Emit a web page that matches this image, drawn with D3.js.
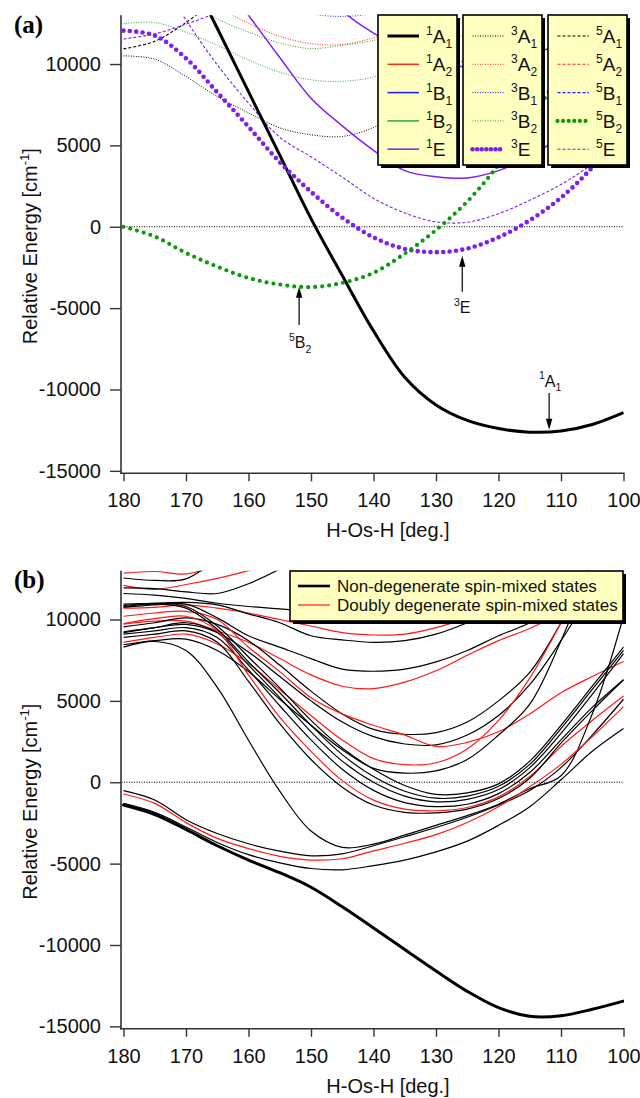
<!DOCTYPE html>
<html>
<head>
<meta charset="utf-8">
<script src="https://cdn.jsdelivr.net/npm/d3@7"></script>
<style>
  body { margin: 0; background: #fff; }
  svg { display: block; font-family: "Liberation Sans", Arial, Helvetica, sans-serif; }
</style>
</head>
<body>
<svg id="chart" width="640" height="1098"></svg>
<script>
const N = null;

// H-Os-H angle grid (deg.), every series below is read at these angles
const angles = [180, 175, 170, 165, 160, 155, 150, 145, 140, 135, 130, 125, 120, 115, 110, 105, 100];
const xTicks = [180, 170, 160, 150, 140, 130, 120, 110, 100];
const yTicks = [10000, 5000, 0, -5000, -10000, -15000];

// (a) spin-free states, relative energy in cm-1
const a1A1  = [N, N, 16000, 12200, 8300, 4400, 500, -3000, -6400, -9250, -10950, -11900, -12400, -12620, -12550, -12150, -11420];
const a1E   = [N, N, N, 15600, 13000, 10400, 7900, 6200, 4700, 3450, 3080, 3000, 3450, 4300, 5600, 7300, 9500];
const a1Eb  = [N, N, N, N, N, N, 16000, 13300, 11900, 10900, 10200, 9800, 9900, 10500, 11300, 12300, 13500];
const a3A1  = [10500, 10300, 9230, 8000, 7000, 6080, 5650, 5550, 6100, 7200, 8700, 10500, 12500, 14700, N, N, N];
const a3A2  = [N, N, N, 13500, 12500, 11700, 11250, 11200, 11600, 12200, 12900, 13700, N, N, N, N, N];
const a3B1  = [N, N, N, N, N, 13800, 13100, 12930, 13100, 13600, N, N, N, N, N, N, N];
const a3B2  = [12480, 12550, 11950, 11150, 10250, 9500, 9030, 8940, 9200, 9900, 10800, 12000, 13400, N, N, N, N];
const a3B2b = [N, N, 14000, 12770, 11970, 11290, 10950, 11150, 11450, 12100, 13000, 14000, N, N, N, N, N];
const a3E   = [12050, 11750, 10350, 8260, 6140, 3970, 2150, 560, -650, -1360, -1560, -1340, -650, 400, 1790, 3650, 6000];
const a5A1  = [10930, 11400, 12550, 14000, N, N, N, N, N, N, N, N, N, N, N, N, N];
const a5B2  = [0, -600, -1610, -2450, -3150, -3550, -3710, -3450, -2830, -1650, -200, 1550, 3800, 6500, 9500, 12800, 16000];
const a5E   = [N, 15800, 12700, 9950, 7600, 5500, 4300, 3050, 1750, 850, 300, 280, 800, 1630, 2600, 3850, 5400];
const a5Eb  = [11540, 11850, 12450, 13150, 14000, N, N, N, N, N, N, N, N, N, N, N, N];

// (b) spin-mixed states
const bGround = [-1400, -1980, -2900, -3900, -4780, -5560, -6450, -7650, -8950, -10280, -11600, -12850, -13850, -14380, -14350, -13950, -13450];
const bK1  = [-515, -1090, -2300, -3150, -3780, -4230, -4520, -4400, -3900, -3350, -2780, -2150, -1400, -500, 900, 2900, 5100];
const bR1  = [-720, -1300, -2480, -3450, -4080, -4550, -4780, -4700, -4220, -3750, -3220, -2470, -1500, -280, 1100, 2800, 4650];
const bK3  = [-1300, -1850, -2750, -3700, -4450, -4950, -5300, -5380, -5120, -4780, -4280, -3620, -2650, -1500, 150, 1900, 3300];
const bKS  = [8300, 8650, 8100, 5830, 2580, -550, -3000, -4000, -3800, -3250, -2650, -2050, -1350, -400, 400, 4200, 10200];
const bK16 = [10850, 11000, 10800, 9600, 7700, 5800, 3800, 2100, 800, -200, -750, -650, -100, 1300, 3500, 5900, 8300];
const bK19 = [10800, 10950, 10700, 9400, 7400, 5500, 3500, 1700, 350, -550, -980, -850, -250, 1100, 3300, 5700, 8100];
const bK20 = [9200, 9500, 9800, 9200, 7200, 5200, 3100, 1300, 0, -850, -1200, -1050, -450, 900, 3000, 5400, 7900];
const bK18 = [9100, 9300, 9500, 8900, 6900, 4700, 2600, 800, -500, -1250, -1500, -1350, -700, 600, 2600, 4600, 6300];
const bR17 = [9750, 10050, 10200, 9300, 6600, 4000, 1900, 100, -1100, -1650, -1750, -1550, -900, 350, 2200, 3800, 5300];
const bK21 = [8900, 9100, 9300, 8600, 6200, 3600, 1400, -300, -1400, -1850, -1880, -1650, -1000, 250, 2400, 4400, 6300];
const bK11 = [9550, 9800, 10100, 9700, 8700, 7200, 5600, 4200, 3250, 2950, 3050, 3700, 5000, 6750, 9800, 13500, N];
const bK12 = [9250, 9500, 9700, 9200, 8000, 6500, 5000, 3700, 2800, 2350, 2300, 2900, 4100, 6000, 8700, 11800, N];
const bR13 = [10200, 10400, 10500, 10000, 8300, 6800, 5200, 4200, 3500, 2900, 2200, 2450, 3100, 4200, 5500, 6500, 7420];
const bR14 = [8600, 8900, 9100, 8500, 7300, 5700, 4100, 2600, 1450, 1080, 1200, 2050, 3800, 6400, 9800, 13500, N];
const bK15 = [8450, 8700, 8800, 8100, 6800, 5100, 3500, 2000, 850, 560, 700, 1400, 2900, 4800, 8700, 13500, N];
const bK6  = [11600, 11500, 11300, 11000, 10800, 10650, 10500, 10350, 10300, 10600, 11200, 12000, 13000, N, N, N, N];
const bR7  = [10700, 10750, 10900, 10700, 10400, 10000, 9600, 9200, 9050, 9100, 9500, 10100, 11000, 12000, N, N, N];
const bK8  = [10950, 11000, 11050, 10900, 10350, 9800, 9000, 8750, 8600, 8700, 9100, 9800, 10700, 11800, N, N, N];
const bK9  = [10750, 10900, 10950, 10100, 9000, 8300, 7600, 6950, 6820, 6950, 7400, 8100, 9000, 9800, 11000, 12300, N];
const bR10 = [9720, 9900, 9900, 9300, 8600, 7600, 6600, 5900, 5750, 6150, 6850, 7800, 8700, 9450, 10400, 11500, 12800];
const bR1t = [12850, 12950, 12800, 13300, 14000, N, N, N, N, N, N, N, N, N, N, N, N];
const bK2t = [12550, 12400, 12500, 13800, N, N, N, N, N, N, N, N, N, N, N, N, N];
const bR3t = [12100, 11850, 12150, 12530, 13000, 13600, N, N, N, N, N, N, N, N, N, N, N];
const bK4t = [11950, 11900, 11700, 11600, 12200, 13100, N, N, N, N, N, N, N, N, N, N, N];

// legend (a)
const multiplicities = ["1", "3", "5"];
const symmetries = [["A", "1"], ["A", "2"], ["B", "1"], ["B", "2"], ["E", ""]];
const symColors = ["#000000", "#ff2a1a", "#1a1aff", "#33a833", "#7f1fef"];

// legend (b)
const bLegend = ["Non-degenerate spin-mixed states", "Doubly degenerate spin-mixed states"];

const svg = d3.select("#chart");
const x = d3.scaleLinear().domain([180, 100]).range([123.5, 623.5]);

function styleFor(mult, s) {
  let st = { color: symColors[s], width: 1.5, dash: null, cap: "butt", legendDash: null };
  if (mult === "3") { st.width = 1; st.dash = "1 1.5"; }
  if (mult === "5") { st.width = 1.1; st.dash = "3 2"; }
  if (mult === "1" && s === 0) st.width = 3;
  if (mult === "3" && s === 4) { st.width = 4.6; st.dash = "0 6.4"; st.cap = "round"; st.legendDash = "0 4.6"; }
  if (mult === "5" && s === 3) { st.color = "#0c9a0c"; st.width = 4.2; st.dash = "0 7"; st.cap = "round"; st.legendDash = "0 5.6"; }
  return st;
}

function panel(top, label) {
  const bottom = top + 458.1;
  const y = d3.scaleLinear().domain([-15150, 13000]).range([bottom, top]);
  const g = svg.append("g");
  const clipId = "clip" + label;
  svg.append("clipPath").attr("id", clipId)
    .append("rect").attr("x", 122).attr("y", top).attr("width", 502).attr("height", bottom - top);

  // axes
  g.append("line").attr("x1", 121).attr("x2", 121).attr("y1", top).attr("y2", bottom + 0.8)
    .attr("stroke", "#333").attr("stroke-width", 1.6);
  g.append("line").attr("x1", 120.2).attr("x2", 624.5).attr("y1", bottom).attr("y2", bottom)
    .attr("stroke", "#333").attr("stroke-width", 1.6);

  const ya = g.append("g").attr("transform", "translate(121,0)")
    .call(d3.axisLeft(y).tickValues(yTicks).tickSize(11).tickPadding(9).tickSizeOuter(0).tickFormat(d => String(d)));
  const xa = g.append("g").attr("transform", `translate(0,${bottom})`)
    .call(d3.axisBottom(x).tickValues(xTicks).tickSize(8).tickPadding(12).tickSizeOuter(0).tickFormat(d => String(d)));
  [ya, xa].forEach(ax => {
    ax.select(".domain").remove();
    ax.selectAll("line").attr("stroke", "#333").attr("stroke-width", 1.4);
    ax.selectAll("text").attr("font-size", 20).attr("fill", "#111")
      .attr("font-family", "'Liberation Sans', Arial, sans-serif");
  });

  // titles
  const yt = g.append("text")
    .attr("transform", `translate(37,${(top + bottom) / 2 + 2}) rotate(-90)`)
    .attr("text-anchor", "middle").attr("font-size", 20).attr("fill", "#111");
  yt.append("tspan").text("Relative Energy [cm");
  yt.append("tspan").attr("font-size", 13).attr("dy", -8).text("-1");
  yt.append("tspan").attr("dy", 8).text("]");

  g.append("text").attr("x", 388).attr("y", bottom + 64)
    .attr("text-anchor", "middle").attr("font-size", 20).attr("fill", "#111")
    .text("H-Os-H [deg.]");

  g.append("text").attr("x", 14).attr("y", top + 17.5)
    .attr("font-family", "'Liberation Serif', 'Times New Roman', serif")
    .attr("font-weight", "bold").attr("font-size", 25).attr("fill", "#000")
    .text("(" + label + ")");

  const plot = g.append("g").attr("clip-path", `url(#${clipId})`);
  plot.append("line").attr("x1", x(180) - 2).attr("x2", x(100)).attr("y1", y(0)).attr("y2", y(0))
    .attr("stroke", "#000").attr("stroke-width", 1).attr("stroke-dasharray", "1 1.5");

  const line = d3.line()
    .defined(d => d[1] != null)
    .x(d => x(d[0])).y(d => y(d[1]))
    .curve(d3.curveCatmullRom.alpha(0.5));

  function curve(vals, st) {
    plot.append("path")
      .datum(angles.map((a, i) => [a, vals[i]]))
      .attr("d", line)
      .attr("fill", "none")
      .attr("stroke", st.color)
      .attr("stroke-width", st.width)
      .attr("stroke-dasharray", st.dash)
      .attr("stroke-linecap", st.cap)
      .attr("stroke-linejoin", "round");
  }
  return { g, y, curve, top, bottom };
}

function supSubText(g, cx, baseY, sup, base, sub, size) {
  const t = g.append("text").attr("x", cx).attr("y", baseY)
    .attr("text-anchor", "middle").attr("font-size", size).attr("fill", "#111");
  t.append("tspan").attr("font-size", size * 0.66).attr("dy", -size * 0.45).text(sup);
  t.append("tspan").attr("dy", size * 0.45).text(base);
  if (sub) t.append("tspan").attr("font-size", size * 0.66).attr("dy", size * 0.3).text(sub);
  return t;
}

function arrow(g, xd, y, vTail, vTip) {
  const px = x(xd), y0 = y(vTail), y1 = y(vTip);
  const dir = y1 > y0 ? 1 : -1;
  g.append("line").attr("x1", px).attr("x2", px).attr("y1", y0).attr("y2", y1 - dir * 8)
    .attr("stroke", "#000").attr("stroke-width", 1.2);
  g.append("path")
    .attr("d", `M${px},${y1} L${px - 3.2},${y1 - dir * 11} L${px + 3.2},${y1 - dir * 11} Z`)
    .attr("fill", "#000");
}

// ---------- panel (a)
const pa = panel(15.2, "a");
const aCurves = [
  [a3A1, "3", 0], [a5A1, "5", 0], [a3A2, "3", 1], [a3B1, "3", 2],
  [a3B2, "3", 3], [a3B2b, "3", 3], [a5E, "5", 4], [a5Eb, "5", 4],
  [a1E, "1", 4], [a1Eb, "1", 4], [a1A1, "1", 0], [a3E, "3", 4], [a5B2, "5", 3]
];
aCurves.forEach(([vals, m, s]) => pa.curve(vals, styleFor(m, s)));

// annotations
arrow(pa.g, 151.9, pa.y, -6030, -3690);
supSubText(pa.g, x(151.9) + 1, pa.y(-7440), "5", "B", "2", 16);
arrow(pa.g, 125.8, pa.y, -4000, -1780);
supSubText(pa.g, x(125.8), pa.y(-5290), "3", "E", "", 16);
arrow(pa.g, 111.9, pa.y, -10210, -12480);
supSubText(pa.g, x(111.9) + 1, pa.y(-9820), "1", "A", "1", 16);

// legend (a)
const boxX = [378, 463, 548];
multiplicities.forEach((m, bi) => {
  const lg = pa.g.append("g").attr("transform", `translate(${boxX[bi]},15)`);
  lg.append("rect").attr("x", 3).attr("y", 3).attr("width", 79).attr("height", 150).attr("fill", "#000");
  lg.append("rect").attr("x", 0).attr("y", 0).attr("width", 79).attr("height", 150)
    .attr("fill", "#ffffbf").attr("stroke", "#000").attr("stroke-width", 1.6);
  symmetries.forEach(([b, sub], si) => {
    const st = styleFor(m, si);
    const cy = 21 + si * 28.3;
    lg.append("line").attr("x1", 9.5).attr("x2", 41).attr("y1", cy).attr("y2", cy)
      .attr("stroke", st.color).attr("stroke-width", st.width)
      .attr("stroke-dasharray", st.legendDash || st.dash).attr("stroke-linecap", st.cap);
    const t = lg.append("text").attr("x", 48).attr("y", cy + 7)
      .attr("font-size", 19).attr("fill", "#111");
    t.append("tspan").attr("font-size", 12).attr("dy", -8).text(m);
    t.append("tspan").attr("dy", 8).text(b);
    if (sub) t.append("tspan").attr("font-size", 12).attr("dy", 5).text(sub);
  });
});

// ---------- panel (b)
const pb = panel(570.7, "b");
const red = { color: "#ff1a1a", width: 1.2, dash: null, cap: "butt" };
const blk = { color: "#000", width: 1.2, dash: null, cap: "butt" };
const bCurves = [
  [bR1t, red], [bK2t, blk], [bR3t, red], [bK4t, blk],
  [bK6, blk], [bR7, red], [bK8, blk], [bK9, blk], [bR10, red],
  [bK11, blk], [bK12, blk], [bR13, red], [bR14, red], [bK15, blk],
  [bK16, blk], [bK19, blk], [bK20, blk], [bK18, blk], [bR17, red], [bK21, blk],
  [bKS, blk], [bK1, blk], [bK3, blk], [bR1, red]
];
bCurves.forEach(([vals, st]) => pb.curve(vals, st));
pb.curve(bGround, { color: "#000", width: 3, dash: null, cap: "round" });

// legend (b)
const lb = pb.g.append("g").attr("transform", "translate(290,571)");
lb.append("rect").attr("x", 3).attr("y", 3).attr("width", 333).attr("height", 50).attr("fill", "#000");
lb.append("rect").attr("width", 333).attr("height", 50)
  .attr("fill", "#ffffbf").attr("stroke", "#000").attr("stroke-width", 1.6);
bLegend.forEach((name, i) => {
  const cy = 15 + i * 19;
  lb.append("line").attr("x1", 8).attr("x2", 40).attr("y1", cy).attr("y2", cy)
    .attr("stroke", i === 0 ? "#000" : "#ff1a1a").attr("stroke-width", i === 0 ? 2.6 : 1.2);
  lb.append("text").attr("x", 47).attr("y", cy + 6).attr("font-size", 17).attr("fill", "#111").text(name);
});
</script>
</body>
</html>
